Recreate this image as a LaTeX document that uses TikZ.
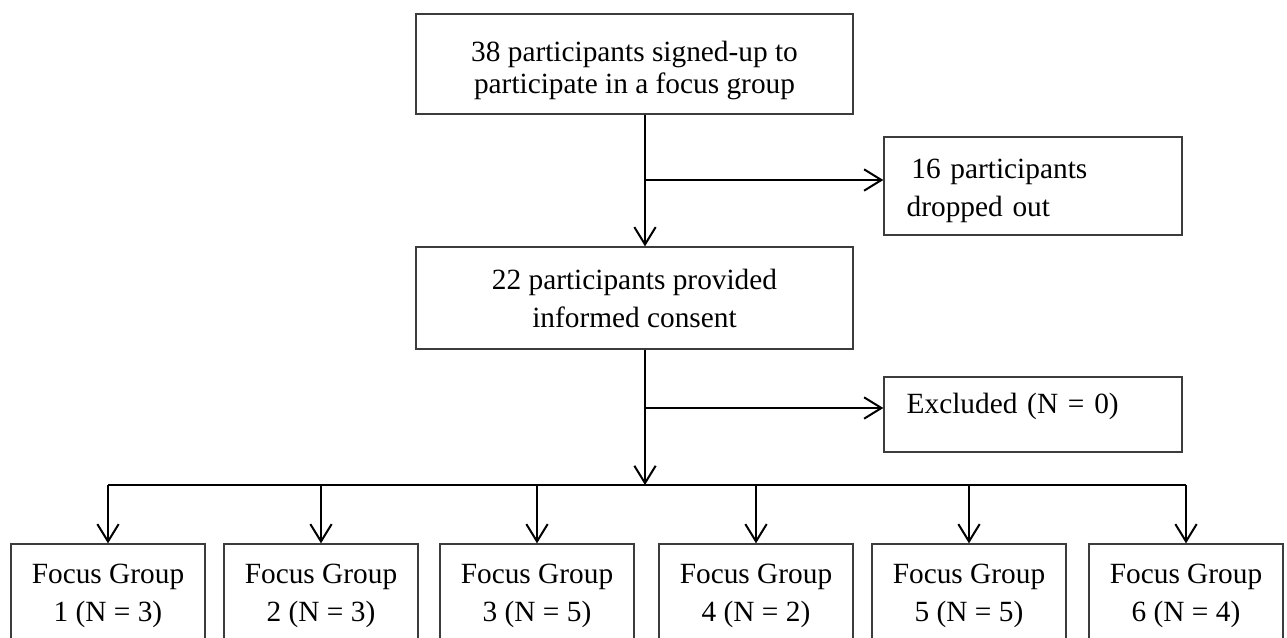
\documentclass[tikz,border=0pt]{standalone}
\usepackage{fontspec}
\setmainfont{Liberation Serif}
\usepackage{tikz}
\usetikzlibrary{arrows.meta,positioning,calc}
\definecolor{boxline}{RGB}{60, 60, 60}

\begin{document}
\begin{tikzpicture}[x=0.75pt, y=-0.75pt,
    stagebox/.style={draw=boxline, line width=1pt, align=center, inner sep=0pt, font=\fontsize{22}{28.5}\selectfont},
    sidebox/.style={draw=boxline, line width=1pt, align=left, inner xsep=17pt, inner ysep=0pt, text width=189.5pt, minimum height=56.25pt, font=\fontsize{22}{28.5}\selectfont},
    groupbox/.style={draw=boxline, line width=1pt, align=center, inner sep=0pt, minimum width=145.5pt, minimum height=78pt, font=\fontsize{22}{28.5}\selectfont},
    flow/.style={-{Straight Barb[length=13pt, width=16pt]}, line width=1.5pt},
    busline/.style={line width=1.5pt}]

\clip (0,0) rectangle (1287,637);

% Main stages
\node[stagebox, minimum width=327.75pt, minimum height=75pt, font=\fontsize{22}{23.5}\selectfont] (signup) at (634.5,64) {
    \rule{0pt}{25pt}38 participants signed-up to\\
    participate in a focus group
};

\node[stagebox, minimum width=327.75pt, minimum height=76.5pt] (consent) at (634.5,298) {
    22 participants provided\\
    informed consent
};

% Side boxes
\node[sidebox, minimum height=73.5pt] (dropped) at (1033,186) {
    \rule{0pt}{22.5pt}\hspace{3.5pt}16 participants\\
    dropped out
};

\node[sidebox, text height=14pt, text depth=16pt] (excluded) at (1033,414.5) {Excluded (N = 0)};

% Focus groups
\foreach \i/\x/\n in {1/108/3, 2/321/3, 3/537/5, 4/756/2, 5/969/5, 6/1186/4}
    \node[groupbox] (group\i) at (\x,596) {Focus Group\\ \i{} (N = \n)};

% Connectors
\coordinate (split1) at (645,180);
\coordinate (split2) at (645,408);
\coordinate (bus) at (645,485);

\draw[flow] (signup.south -| split1) -- (consent.north -| split1);
\draw[flow] (split1) -- (split1 -| dropped.west);

\draw[flow] (consent.south -| split2) -- (bus);
\draw[flow] (split2) -- (split2 -| excluded.west);

\draw[busline] (bus -| group1.north) -- (bus -| group6.north);
\foreach \i in {1,...,6}
    \draw[flow] (bus -| group\i.north) -- (group\i.north);

\end{tikzpicture}
\end{document}
